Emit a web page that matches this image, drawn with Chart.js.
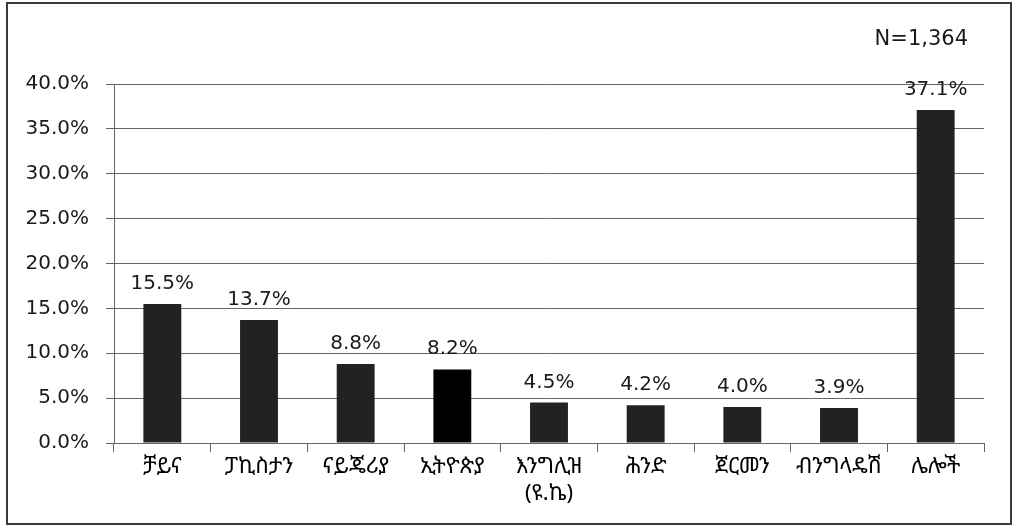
<!DOCTYPE html>
<html>
<head>
<meta charset="utf-8">
<script src="https://cdn.jsdelivr.net/npm/chart.js@4"></script>
<style>
  html, body { margin: 0; padding: 0; background: #fff; }
  #wrap { position: relative; width: 1014px; height: 525px; }
  #frame { position: absolute; left: 6px; top: 2px; width: 1002px; height: 519px; border: 2px solid #3a3a3a; pointer-events: none; }
</style>
</head>
<body>
<div id="wrap">
  <canvas id="chart" width="1014" height="525"></canvas>
  <div id="frame"></div>
</div>
<script>
const categories = ['ቻይና', 'ፓኪስታን', 'ናይጄሪያ', 'ኢትዮጵያ', ['እንግሊዝ', '(ዩ.ኬ)'], 'ሕንድ', 'ጀርመን', 'ብንግላዴሽ', 'ሌሎች'];
const shares = [15.5, 13.7, 8.8, 8.2, 4.5, 4.2, 4.0, 3.9, 37.1];
const barColors = ['#222', '#222', '#222', '#000', '#222', '#222', '#222', '#222', '#222'];
const yTicks = [0, 5, 10, 15, 20, 25, 30, 35, 40];
const sampleNote = 'N=1,364';

const numFont = '"DejaVu Sans", Verdana, sans-serif';
const labelFont = '"Noto Sans Ethiopic", "Abyssinica SIL", "Noto Sans", "DejaVu Sans", sans-serif';

// value labels above the bars + the N note
const barLabels = {
  id: 'barLabels',
  afterDatasetsDraw(chart) {
    const ctx = chart.ctx;
    const meta = chart.getDatasetMeta(0);
    ctx.save();
    ctx.font = '20px ' + numFont;
    ctx.fillStyle = '#1a1a1a';
    ctx.textAlign = 'center';
    ctx.textBaseline = 'alphabetic';
    meta.data.forEach((bar, i) => {
      ctx.fillText(shares[i].toFixed(1) + '%', bar.x, bar.y - 15);
    });
    ctx.font = '21px ' + numFont;
    ctx.textAlign = 'right';
    ctx.fillText(sampleNote, chart.chartArea.right - 16, chart.chartArea.top - 39);
    ctx.restore();
  }
};

new Chart(document.getElementById('chart'), {
  type: 'bar',
  data: {
    labels: categories,
    datasets: [{
      data: shares,
      backgroundColor: barColors,
      barPercentage: 0.49,
      categoryPercentage: 0.8
    }]
  },
  options: {
    responsive: false,
    animation: false,
    layout: { padding: { top: 84, right: 30, left: 0, bottom: 0 } },
    plugins: {
      legend: { display: false },
      tooltip: { enabled: false }
    },
    scales: {
      x: {
        afterFit: s => { s.height = 82; },
        border: { color: '#666', width: 1 },
        grid: { drawOnChartArea: false, drawTicks: true, tickLength: 9, color: '#666', offset: true },
        ticks: { color: '#000', font: { family: labelFont, size: 22 }, maxRotation: 0, autoSkip: false, padding: 2 }
      },
      y: {
        min: 0,
        max: 40,
        afterFit: s => { s.width = 114; },
        afterBuildTicks: s => { s.ticks = yTicks.map(v => ({ value: v })); },
        border: { color: '#666', width: 1 },
        grid: { color: '#666', lineWidth: 1, tickLength: 8 },
        ticks: {
          color: '#1a1a1a',
          font: { family: numFont, size: 20 },
          padding: 17,
          callback: v => v.toFixed(1) + '%'
        }
      }
    }
  },
  plugins: [barLabels]
});
</script>
</body>
</html>
